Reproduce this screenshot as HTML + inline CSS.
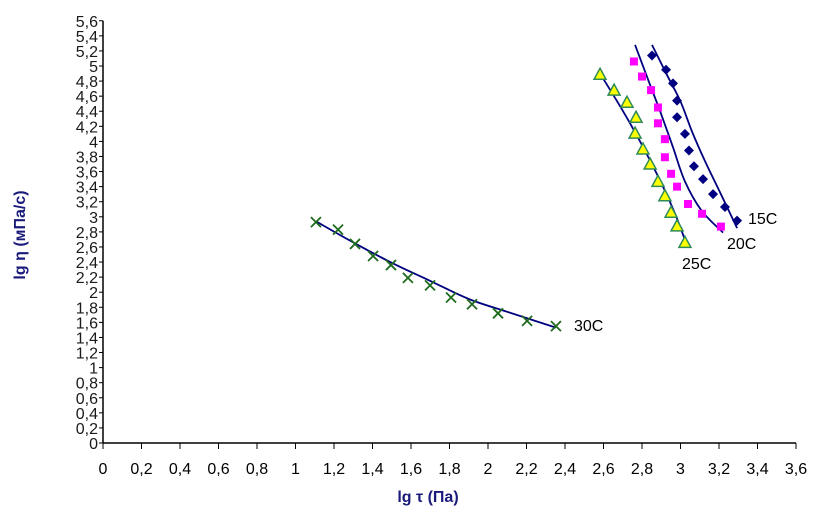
<!DOCTYPE html>
<html><head><meta charset="utf-8"><style>
body{margin:0;background:#fff;}
svg{display:block;font-family:"Liberation Sans",sans-serif;}
</style></head><body>
<svg id="chart" width="826" height="521" viewBox="0 0 826 521">
<g id="axes"></g>
<g id="series"></g>
<text x="428" y="502" text-anchor="middle" font-size="16" font-weight="bold" fill="#1a1a7a">lg τ (Па)</text>
<text transform="translate(25,235) rotate(-90)" text-anchor="middle" font-size="16" font-weight="bold" fill="#1a1a7a">lg η (мПа/с)</text>
</svg>
<script>
const xTicks=[0,0.2,0.4,0.6,0.8,1,1.2,1.4,1.6,1.8,2,2.2,2.4,2.6,2.8,3,3.2,3.4,3.6];
const yTicks=[0,0.2,0.4,0.6,0.8,1,1.2,1.4,1.6,1.8,2,2.2,2.4,2.6,2.8,3,3.2,3.4,3.6,3.8,4,4.2,4.4,4.6,4.8,5,5.2,5.4,5.6];
const x15=[2.852,2.925,2.961,2.982,2.982,3.023,3.044,3.070,3.117,3.169,3.231,3.294];
const y15=[5.14,4.95,4.77,4.54,4.32,4.10,3.88,3.67,3.50,3.30,3.13,2.95];
const tx15=[2.852,2.93,3.0,3.06,3.127,3.21,3.294];
const ty15=[5.28,4.88,4.53,4.13,3.74,3.30,2.85];
const x20=[2.758,2.800,2.847,2.883,2.883,2.919,2.919,2.951,2.982,3.039,3.112,3.210];
const y20=[5.06,4.86,4.68,4.45,4.24,4.03,3.79,3.57,3.40,3.17,3.04,2.87];
const tx20=[2.764,2.83,2.894,2.96,3.023,3.11,3.221];
const ty20=[5.28,4.83,4.40,3.93,3.47,3.08,2.79];
const x25=[2.582,2.655,2.722,2.769,2.764,2.805,2.842,2.883,2.919,2.951,2.982,3.023];
const y25=[4.89,4.68,4.52,4.32,4.11,3.90,3.70,3.47,3.28,3.06,2.88,2.66];
const tx25=[2.582,2.69,2.79,2.90,2.97,3.034];
const ty25=[4.90,4.45,4.00,3.45,3.05,2.62];
const x30=[1.106,1.221,1.309,1.403,1.496,1.584,1.699,1.808,1.917,2.052,2.203,2.353];
const y30=[2.93,2.83,2.64,2.48,2.36,2.19,2.09,1.93,1.84,1.72,1.62,1.55];
const tx30=[1.106,1.3,1.5,1.7,1.9,2.1,2.353];
const ty30=[2.94,2.66,2.39,2.15,1.91,1.74,1.53];

const X=v=>103+v*192.5, Y=v=>443-v*75.4;
const NS="http://www.w3.org/2000/svg";
function mk(tag,attrs,parent){const e=document.createElementNS(NS,tag);for(const k in attrs)e.setAttribute(k,attrs[k]);parent.appendChild(e);return e;}
const ax=document.getElementById('axes'), sg=document.getElementById('series');
let l=mk('line',{x1:103,y1:Y(5.6),x2:103,y2:443,stroke:'#000','stroke-width':1.5},ax);


l=mk('line',{x1:103,y1:443,x2:X(3.6),y2:443,stroke:'#000','stroke-width':1.5},ax);


const fmt=v=>String(+v.toFixed(1)).replace('.',',');
xTicks.forEach(v=>{
  const t=mk('line',{x1:X(v),y1:443,x2:X(v),y2:449,stroke:'#000','stroke-width':1},ax);
  
  
  const tx=mk('text',{x:X(v),y:474,'text-anchor':'middle','font-size':16,fill:'#000'},ax);
  tx.textContent=fmt(v);
  
  
});
yTicks.forEach(v=>{
  const t=mk('line',{x1:99,y1:Y(v),x2:103,y2:Y(v),stroke:'#000','stroke-width':1},ax);
  
  
  const tx=mk('text',{x:98,y:Y(v)+6,'text-anchor':'end','font-size':16,fill:'#1a1a1a'},ax);
  tx.textContent=fmt(v);
  
  
});
function smooth(xs,ys){
  const p=xs.map((x,i)=>[X(x),Y(ys[i])]);
  let d='M'+p[0][0]+','+p[0][1];
  for(let i=0;i<p.length-1;i++){
    const p0=p[i-1]||p[i],p1=p[i],p2=p[i+1],p3=p[i+2]||p2;
    const c1=[p1[0]+(p2[0]-p0[0])/6,p1[1]+(p2[1]-p0[1])/6],c2=[p2[0]-(p3[0]-p1[0])/6,p2[1]-(p3[1]-p1[1])/6];
    d+=`C${c1[0]},${c1[1]} ${c2[0]},${c2[1]} ${p2[0]},${p2[1]}`;
  }
  return d;
}
function series(name,xs,ys,txs,tys,marker,label,lx,ly){
  const g=mk('g',{},sg);
  
  
  const p=mk('path',{d:smooth(txs,tys),fill:'none',stroke:'#000080','stroke-width':1.8},g);
  
  
  xs.forEach((x,i)=>{
    const cx=X(x),cy=Y(ys[i]);let m;
    if(marker==='diamond')m=mk('path',{d:`M${cx},${cy-5}L${cx+5},${cy}L${cx},${cy+5}L${cx-5},${cy}Z`,fill:'#000080'},g);
    else if(marker==='square')m=mk('rect',{x:cx-4,y:cy-4,width:8,height:8,fill:'#ff00ff'},g);
    else if(marker==='triangle')m=mk('path',{d:`M${cx},${cy-6}L${cx+6},${cy+5}L${cx-6},${cy+5}Z`,fill:'#ffff00',stroke:'#2e8b57','stroke-width':1.5},g);
    else m=mk('path',{d:`M${cx-5},${cy-5}L${cx+5},${cy+5}M${cx+5},${cy-5}L${cx-5},${cy+5}`,stroke:'#1e6b1e','stroke-width':1.8},g);
    
    
  });
  const t=mk('text',{x:lx,y:ly,'font-size':16,fill:'#000'},g);
  t.textContent=label;
  
  
}
series('15c',x15,y15,tx15,ty15,'diamond','15C',748,224);
series('20c',x20,y20,tx20,ty20,'square','20C',727,249);
series('25c',x25,y25,tx25,ty25,'triangle','25C',682,269);
series('30c',x30,y30,tx30,ty30,'x','30C',574,331);
</script>
</body></html>
